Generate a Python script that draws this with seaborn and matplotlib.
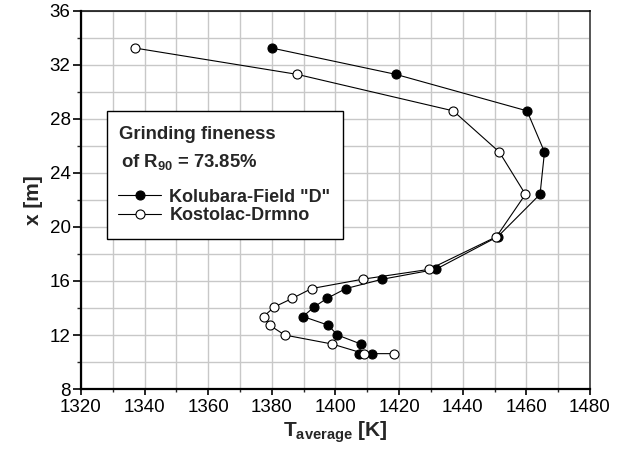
import numpy as np
import pandas as pd
import seaborn as sns
import matplotlib.pyplot as plt
from matplotlib.patches import Rectangle
from matplotlib.ticker import MultipleLocator

# data
height = [33.25, 31.3, 28.6, 25.55, 22.42, 19.28, 16.86, 16.13, 15.44,
          14.71, 14.08, 13.37, 12.73, 12.0, 11.33, 10.62, 10.62]
t_kolubara = [1380, 1419, 1460.2, 1465.7, 1464.3, 1451, 1431.5, 1414.7, 1403.3,
              1397.3, 1393.3, 1389.8, 1397.7, 1400.6, 1408, 1407.5, 1411.5]
t_kostolac = [1337, 1388, 1437, 1451.5, 1459.7, 1450.6, 1429.4, 1408.5, 1392.5,
              1386.4, 1380.8, 1377.4, 1379.3, 1384, 1399, 1409, 1418.5]
labels = ['Kolubara-Field "D"', 'Kostolac-Drmno']

sns.set_theme(style="ticks")
plt.rcParams['font.family'] = ['Liberation Sans', 'DejaVu Sans']
plt.rcParams['mathtext.fontset'] = 'custom'
plt.rcParams['mathtext.rm'] = 'Liberation Sans'
plt.rcParams['mathtext.bf'] = 'Liberation Sans:bold'
plt.rcParams['mathtext.it'] = 'Liberation Sans:italic'

fig = plt.figure(figsize=(6.2, 4.55), dpi=100)
ax = fig.add_axes([0.1306, 0.145, 0.821, 0.831])

sns.lineplot(x=t_kolubara, y=height, sort=False, estimator=None, ax=ax,
             color='black', lw=0.8, marker='o', markersize=6.5,
             markerfacecolor='black', markeredgecolor='black',
             markeredgewidth=0.8, label=labels[0], zorder=3)
sns.lineplot(x=t_kostolac, y=height, sort=False, estimator=None, ax=ax,
             color='black', lw=0.8, marker='o', markersize=6.5,
             markerfacecolor='white', markeredgecolor='black',
             markeredgewidth=0.8, label=labels[1], zorder=4)

ax.set_xlim(1320, 1480)
ax.set_ylim(8, 36)
ax.xaxis.set_major_locator(MultipleLocator(20))
ax.xaxis.set_minor_locator(MultipleLocator(10))
ax.yaxis.set_major_locator(MultipleLocator(4))
ax.yaxis.set_minor_locator(MultipleLocator(2))
ax.grid(True, which='both', color='#c8c8c8', lw=1.0, zorder=0)
ax.set_axisbelow(True)

ax.tick_params(axis='x', which='major', length=4.5, width=1.2, pad=3, labelsize=13.5, colors='black')
ax.tick_params(axis='x', which='minor', length=2.5, width=1.0)
ax.tick_params(axis='y', which='major', length=5.5, width=1.2, pad=2, labelsize=13.5, colors='black')
ax.tick_params(axis='y', which='minor', length=3, width=1.0)

for s in ['left', 'bottom']:
    ax.spines[s].set_linewidth(1.6)
    ax.spines[s].set_color('black')
ax.spines['top'].set_linewidth(1.1)
ax.spines['top'].set_color('black')
ax.spines['right'].set_linewidth(1.4)
ax.spines['right'].set_color('#555555')

ax.set_xlabel(r"T$_{\mathbf{average}}$ [K]", fontsize=15, fontweight='bold', labelpad=2)
ax.set_ylabel("x [m]", fontsize=15, fontweight='bold', labelpad=5)

# legend box
box = Rectangle((0.051, 0.397), 0.463, 0.338, transform=ax.transAxes,
                facecolor='white', edgecolor='black', lw=1.0, zorder=5)
ax.add_patch(box)
ax.text(0.0747, 0.672, "Grinding fineness", transform=ax.transAxes,
        fontsize=13.3, fontweight='bold', va='center', ha='left', zorder=6)
ax.text(0.079, 0.600, r"of R$_{\mathbf{90}}$ = 73.85%", transform=ax.transAxes,
        fontsize=13.3, fontweight='bold', va='center', ha='left', zorder=6)

leg = ax.legend(loc='upper left', bbox_to_anchor=(0.0727, 0.530), frameon=False,
                borderpad=0, borderaxespad=0, handlelength=2.4, handletextpad=0.45,
                labelspacing=0.1, prop={'size': 13, 'weight': 'bold'})
leg.set_zorder(7)

fig.savefig("out.png", dpi=100)
